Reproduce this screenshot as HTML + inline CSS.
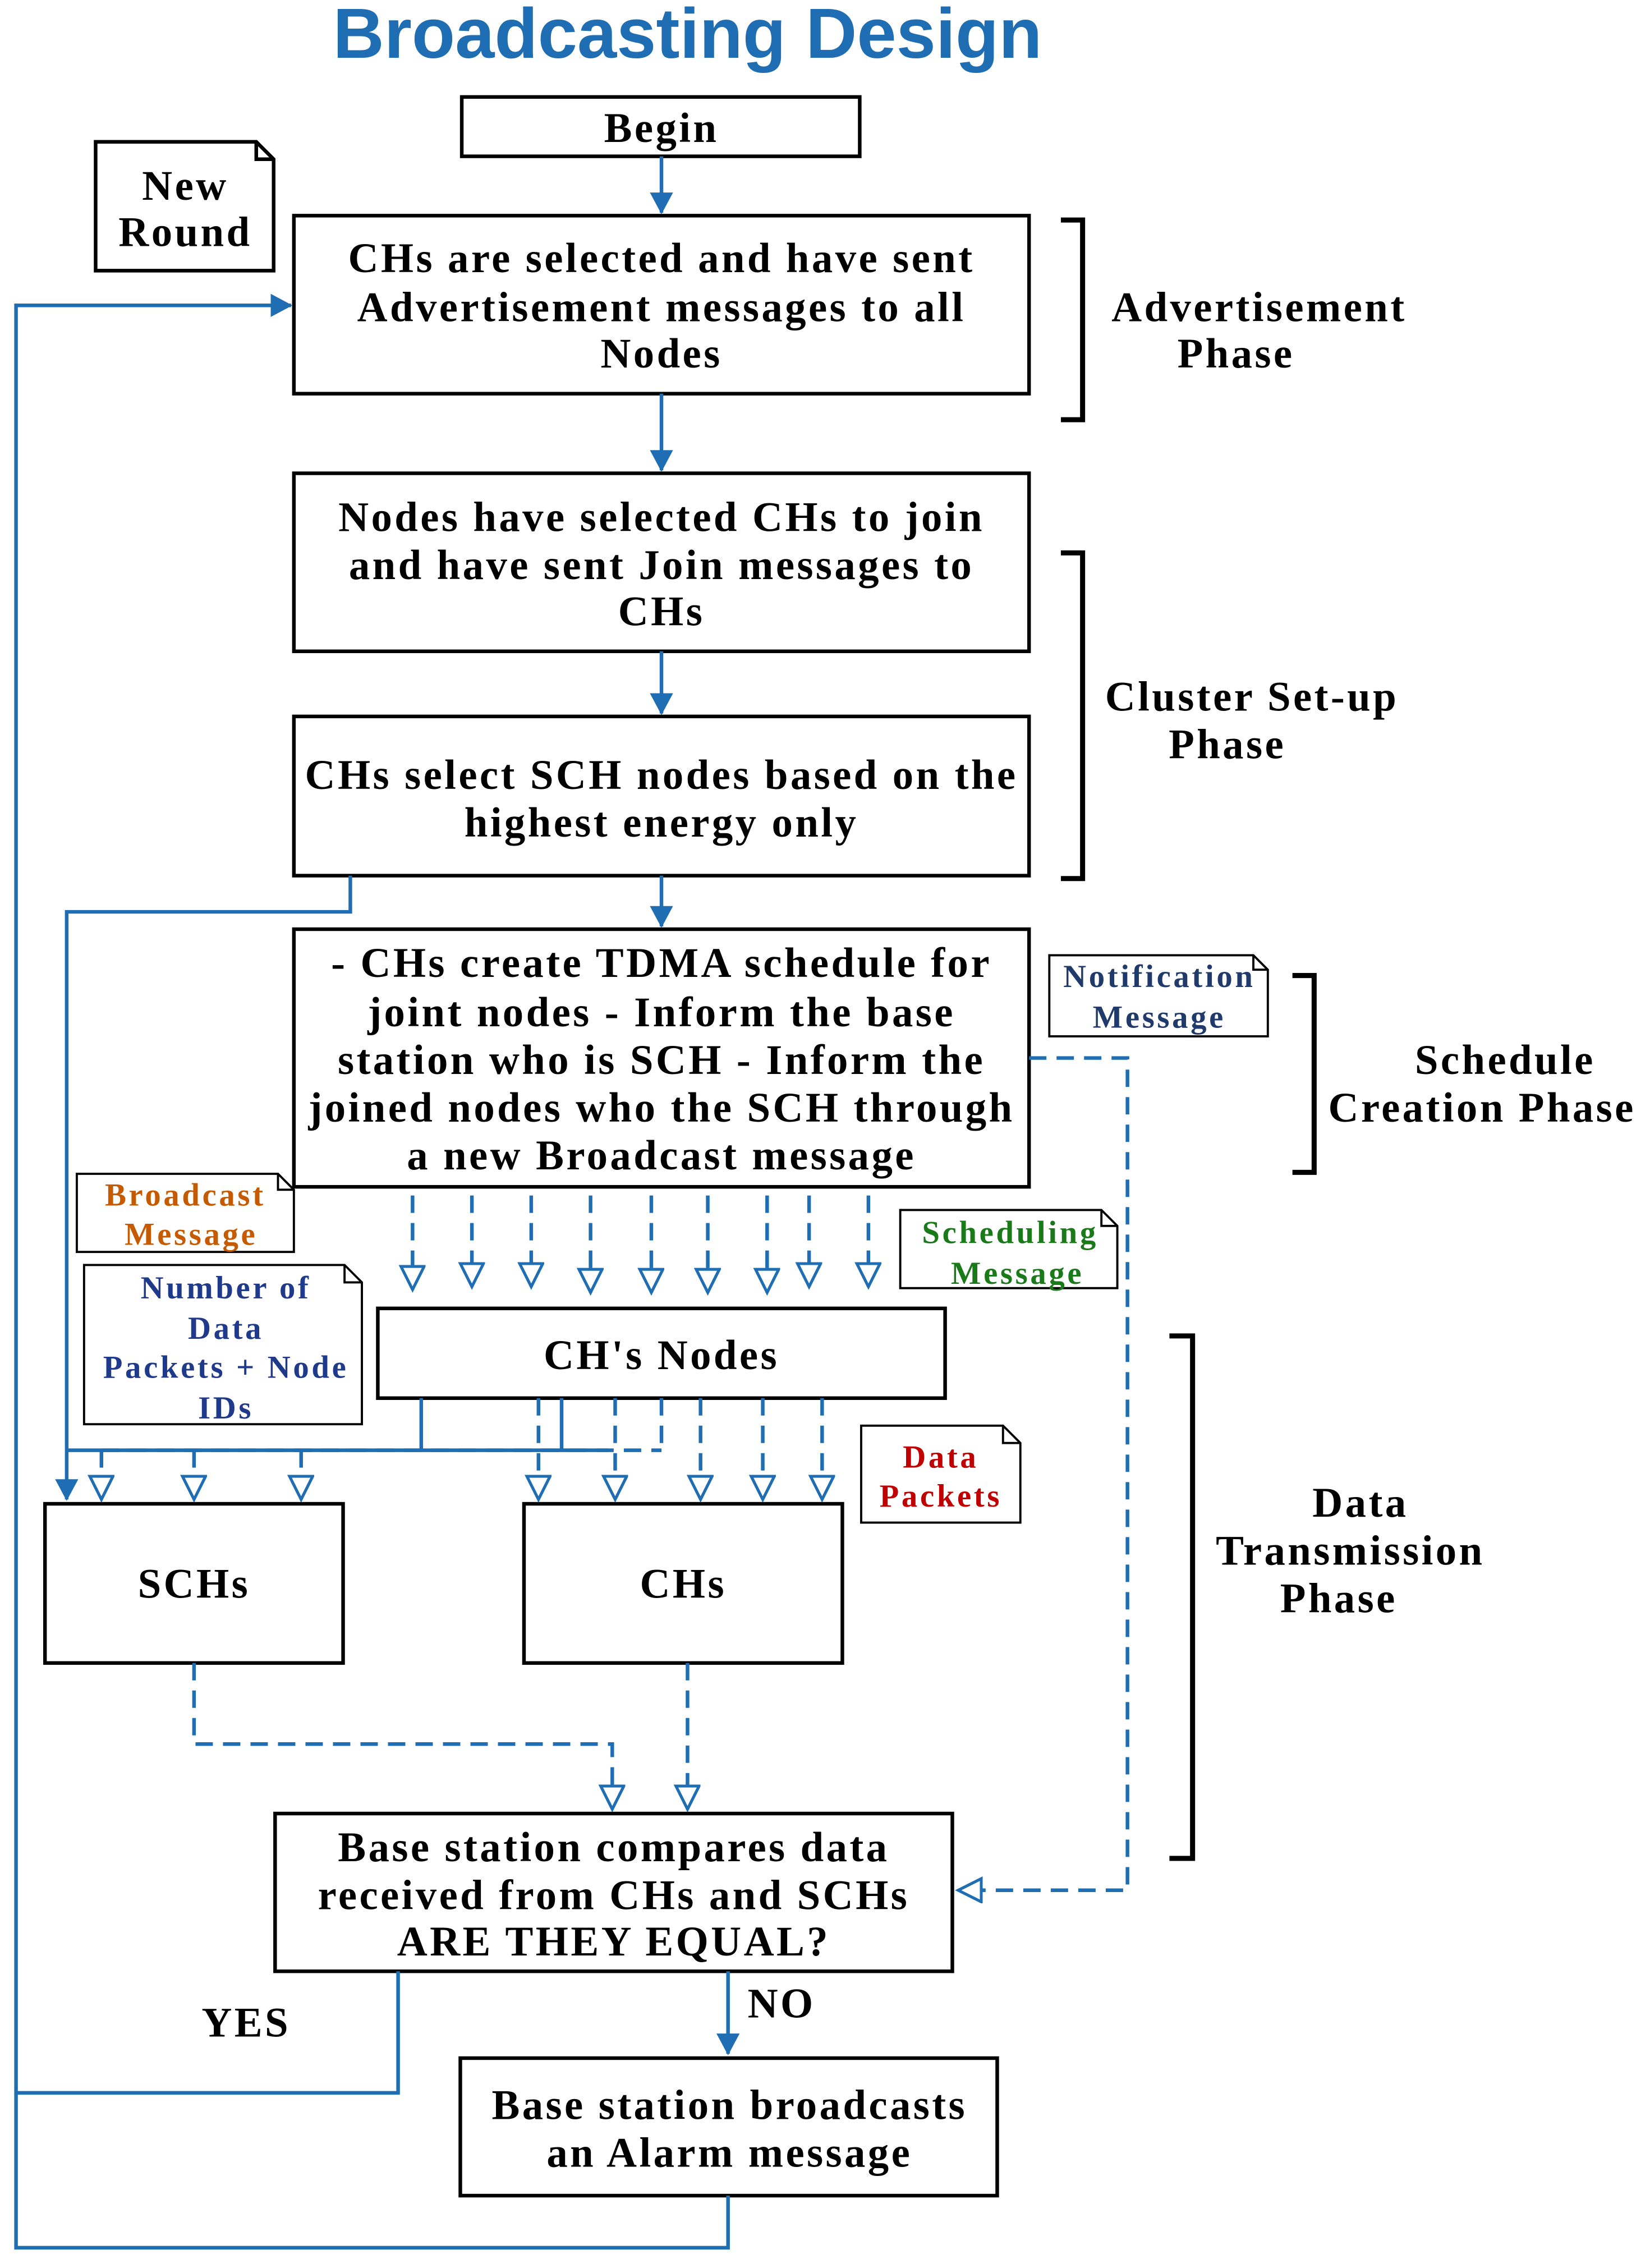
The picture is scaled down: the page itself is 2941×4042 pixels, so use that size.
<!DOCTYPE html>
<html><head><meta charset="utf-8"><style>
html,body{margin:0;padding:0;background:#fff;}
svg{display:block;}
.t{font-family:"Liberation Serif",serif;font-weight:bold;font-size:29px;letter-spacing:1.7px;text-anchor:middle;fill:#000;}
.s{font-family:"Liberation Serif",serif;font-weight:bold;font-size:22px;letter-spacing:1.8px;text-anchor:middle;}
.box{fill:#fff;stroke:#000;stroke-width:2.5;}
.ln{stroke:#1f6db3;stroke-width:2.5;fill:none;}
.ds{stroke:#1f6db3;stroke-width:2.5;fill:none;stroke-dasharray:12,7;}
.br{stroke:#000;stroke-width:3.5;fill:none;}
.note{fill:#fff;stroke:#000;stroke-width:1.5;}
</style></head><body>
<svg width="2941" height="4042" viewBox="0 0 1140 1567" xmlns="http://www.w3.org/2000/svg">
<defs>
<marker id="fb" markerWidth="16" markerHeight="16" refX="14" refY="8" orient="auto" markerUnits="userSpaceOnUse"><path d="M0,0 L15,8 L0,16 z" fill="#1f6db3"/></marker>
<marker id="ha" markerWidth="20" markerHeight="20" refX="17" refY="9" orient="auto" markerUnits="userSpaceOnUse"><path d="M1,1 L17,9 L1,17 z" fill="#fff" stroke="#1f6db3" stroke-width="2"/></marker>
</defs>
<text x="475" y="40" style="font-family:'Liberation Sans',sans-serif;font-weight:bold;font-size:49px;fill:#1f6db3;text-anchor:middle">Broadcasting Design</text>

<rect class="box" x="319" y="67" width="275" height="41"/>
<text class="t" x="457" y="98">Begin</text>
<line class="ln" x1="457" y1="108" x2="457" y2="147" marker-end="url(#fb)"/>

<path class="note" d="M66,98 H177 L189,110 V187 H66 Z M177,98 V110 H189" style="stroke-width:2.5"/>
<text class="t" x="128" y="138">New</text>
<text class="t" x="128" y="170">Round</text>

<rect class="box" x="203" y="149" width="508" height="123"/>
<text class="t" x="457" y="188">CHs are selected and have sent</text>
<text class="t" x="457" y="222">Advertisement messages to all</text>
<text class="t" x="457" y="254">Nodes</text>
<path class="br" d="M733,152 H748 V290 H733"/>
<text class="t" x="870" y="222">Advertisement</text>
<text class="t" x="854" y="254">Phase</text>

<line class="ln" x1="457" y1="272" x2="457" y2="325" marker-end="url(#fb)"/>
<rect class="box" x="203" y="327" width="508" height="123"/>
<text class="t" x="457" y="367">Nodes have selected CHs to join</text>
<text class="t" x="457" y="400">and have sent Join messages to</text>
<text class="t" x="457" y="432">CHs</text>

<line class="ln" x1="457" y1="450" x2="457" y2="493" marker-end="url(#fb)"/>
<rect class="box" x="203" y="495" width="508" height="110"/>
<text class="t" x="457" y="545">CHs select SCH nodes based on the</text>
<text class="t" x="457" y="578">highest energy only</text>
<path class="br" d="M733,382 H748 V607 H733"/>
<text class="t" x="865" y="491">Cluster Set-up</text>
<text class="t" x="848" y="524">Phase</text>

<line class="ln" x1="457" y1="605" x2="457" y2="640" marker-end="url(#fb)"/>
<path class="ln" d="M242,605 V630 H46 V1036" marker-end="url(#fb)"/>

<rect class="box" x="203" y="642" width="508" height="178"/>
<text class="t" x="457" y="675">- CHs create TDMA schedule for</text>
<text class="t" x="457" y="709">joint nodes  - Inform  the base</text>
<text class="t" x="457" y="742">station who is SCH - Inform the</text>
<text class="t" x="457" y="775">joined nodes who the SCH through</text>
<text class="t" x="457" y="808">a new Broadcast message</text>

<path class="note" d="M725,660 H866 L876,670 V716 H725 Z M866,660 V670 H876"/>
<text class="s" x="801" y="682" fill="#1f3a6b">Notification</text>
<text class="s" x="801" y="710" fill="#1f3a6b">Message</text>
<path class="br" d="M893,674 H908 V810 H893"/>
<text class="t" x="1040" y="742">Schedule</text>
<text class="t" x="1024" y="775">Creation Phase</text>

<path class="ds" d="M711,731 H779 V1306 H662" marker-end="url(#ha)"/>

<g class="ds">
<line x1="285" y1="826" x2="285" y2="891" marker-end="url(#ha)"/>
<line x1="326" y1="826" x2="326" y2="889" marker-end="url(#ha)"/>
<line x1="367" y1="826" x2="367" y2="889" marker-end="url(#ha)"/>
<line x1="408" y1="826" x2="408" y2="893" marker-end="url(#ha)"/>
<line x1="450" y1="826" x2="450" y2="893" marker-end="url(#ha)"/>
<line x1="489" y1="826" x2="489" y2="893" marker-end="url(#ha)"/>
<line x1="530" y1="826" x2="530" y2="893" marker-end="url(#ha)"/>
<line x1="559" y1="826" x2="559" y2="889" marker-end="url(#ha)"/>
<line x1="600" y1="826" x2="600" y2="889" marker-end="url(#ha)"/>
</g>

<path class="note" d="M53,811 H192 L203,822 V865 H53 Z M192,811 V822 H203"/>
<text class="s" x="128" y="833" fill="#c55a00">Broadcast</text>
<text class="s" x="132" y="860" fill="#c55a00">Message</text>
<path class="note" d="M622,836 H761 L772,847 V890 H622 Z M761,836 V847 H772"/>
<text class="s" x="698" y="859" fill="#1a7a1a">Scheduling</text>
<text class="s" x="703" y="887" fill="#1a7a1a">Message</text>
<path class="note" d="M58,874 H238 L250,886 V984 H58 Z M238,874 V886 H250"/>
<text class="s" x="156" y="897" fill="#1f3a8b">Number of</text>
<text class="s" x="156" y="925" fill="#1f3a8b">Data</text>
<text class="s" x="156" y="952" fill="#1f3a8b">Packets + Node</text>
<text class="s" x="156" y="980" fill="#1f3a8b">IDs</text>

<rect class="box" x="261" y="904" width="392" height="62"/>
<text class="t" x="457" y="946">CH's Nodes</text>

<line class="ln" x1="291" y1="966" x2="291" y2="1002"/>
<line class="ln" x1="46" y1="1002" x2="420" y2="1002"/>
<line class="ds" x1="70" y1="1002" x2="457" y2="1002"/>
<line class="ds" x1="457" y1="966" x2="457" y2="1002"/>
<line class="ln" x1="388" y1="966" x2="388" y2="1002"/>
<g class="ds">
<line x1="70" y1="1002" x2="70" y2="1036" marker-end="url(#ha)"/>
<line x1="134" y1="1002" x2="134" y2="1036" marker-end="url(#ha)"/>
<line x1="208" y1="1002" x2="208" y2="1036" marker-end="url(#ha)"/>
<line x1="372" y1="966" x2="372" y2="1036" marker-end="url(#ha)"/>
<line x1="425" y1="966" x2="425" y2="1036" marker-end="url(#ha)"/>
<line x1="484" y1="966" x2="484" y2="1036" marker-end="url(#ha)"/>
<line x1="527" y1="966" x2="527" y2="1036" marker-end="url(#ha)"/>
<line x1="568" y1="966" x2="568" y2="1036" marker-end="url(#ha)"/>
</g>

<path class="note" d="M595,985 H693 L705,997 V1052 H595 Z M693,985 V997 H705"/>
<text class="s" x="650" y="1014" fill="#c00000">Data</text>
<text class="s" x="650" y="1041" fill="#c00000">Packets</text>

<rect class="box" x="31" y="1039" width="206" height="110"/>
<text class="t" x="134" y="1104">SCHs</text>
<rect class="box" x="362" y="1039" width="220" height="110"/>
<text class="t" x="472" y="1104">CHs</text>

<path class="br" d="M808,923 H824 V1284 H808"/>
<text class="t" x="940" y="1048">Data</text>
<text class="t" x="933" y="1081">Transmission</text>
<text class="t" x="925" y="1114">Phase</text>

<path class="ds" d="M134,1149 V1205 H423 V1250" marker-end="url(#ha)"/>
<line class="ds" x1="475" y1="1149" x2="475" y2="1250" marker-end="url(#ha)"/>

<rect class="box" x="190" y="1253" width="468" height="109"/>
<text class="t" x="424" y="1286">Base station compares data</text>
<text class="t" x="424" y="1319">received from CHs and SCHs</text>
<text class="t" x="424" y="1351">ARE THEY EQUAL?</text>

<line class="ln" x1="503" y1="1362" x2="503" y2="1419" marker-end="url(#fb)"/>
<text class="t" x="540" y="1394">NO</text>
<text class="t" x="170" y="1407">YES</text>

<rect class="box" x="318" y="1422" width="371" height="95"/>
<text class="t" x="504" y="1464">Base station broadcasts</text>
<text class="t" x="504" y="1497">an Alarm message</text>

<path class="ln" d="M275,1362 V1446 H11"/>
<path class="ln" d="M503,1517 V1553 H11 V211 H201" marker-end="url(#fb)"/>
</svg>
</body></html>
